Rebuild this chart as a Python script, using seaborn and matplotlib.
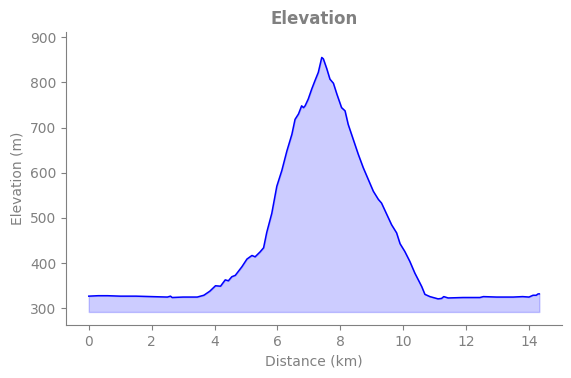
import matplotlib
matplotlib.use("Agg")
import matplotlib.pyplot as plt
import seaborn as sns
import pandas as pd

# profile
distance_km = [0.0, 0.3, 0.6, 1.0, 1.5, 2.0, 2.5, 2.6, 2.65, 3.0, 3.45, 3.66,
               3.85, 4.03, 4.19, 4.34, 4.44, 4.55, 4.66, 4.87, 5.03, 5.19,
               5.29, 5.45, 5.56, 5.66, 5.82, 5.98, 6.14, 6.30, 6.46, 6.56,
               6.67, 6.77, 6.83, 6.88, 6.98, 7.09, 7.19, 7.30, 7.41, 7.46,
               7.57, 7.67, 7.78, 7.89, 8.04, 8.15, 8.25, 8.41, 8.57, 8.73,
               8.89, 9.05, 9.21, 9.31, 9.47, 9.63, 9.79, 9.90, 10.05, 10.21,
               10.37, 10.51, 10.59, 10.69, 10.85, 11.11, 11.22, 11.29, 11.43,
               11.9, 12.44, 12.55, 12.97, 13.5, 13.8, 14.0, 14.13, 14.23,
               14.29, 14.33]
elevation_m = [327, 328, 328, 327, 327, 326, 325, 327, 324, 325, 325, 329,
               338, 350, 349, 363, 361, 370, 373, 392, 409, 417,
               414, 425, 434, 468, 510, 570, 605, 648, 685, 718,
               730, 748, 744, 748, 763, 785, 803, 822, 855, 852,
               830, 807, 798, 774, 744, 737, 707, 674, 641, 611,
               585, 559, 541, 533, 509, 485, 467, 443, 426, 404,
               378, 359, 348, 331, 326, 321, 322, 326, 323,
               324, 324, 326, 325, 325, 326, 325, 329, 329,
               332, 332]
fill_base = 292

df = pd.DataFrame({"Distance (km)": distance_km, "Elevation (m)": elevation_m})

grey = "#808080"
plt.rcParams["font.family"] = "DejaVu Sans"

fig, ax = plt.subplots(figsize=(5.71, 3.78), dpi=100)
fig.subplots_adjust(left=0.116, right=0.984, top=0.915, bottom=0.14)

ax.fill_between(df["Distance (km)"], df["Elevation (m)"], fill_base,
                color="blue", alpha=0.2)
sns.lineplot(data=df, x="Distance (km)", y="Elevation (m)", ax=ax,
             color="blue", linewidth=1.1)

ax.set_ylim(263, 911)
ax.set_title("Elevation", fontsize=12, fontweight="bold", color=grey)
ax.set_xlabel("Distance (km)", color=grey)
ax.set_ylabel("Elevation (m)", color=grey)
ax.tick_params(colors=grey, labelcolor=grey)
sns.despine(ax=ax)
for s in ["left", "bottom"]:
    ax.spines[s].set_color(grey)

fig.savefig("out.png", dpi=100)
